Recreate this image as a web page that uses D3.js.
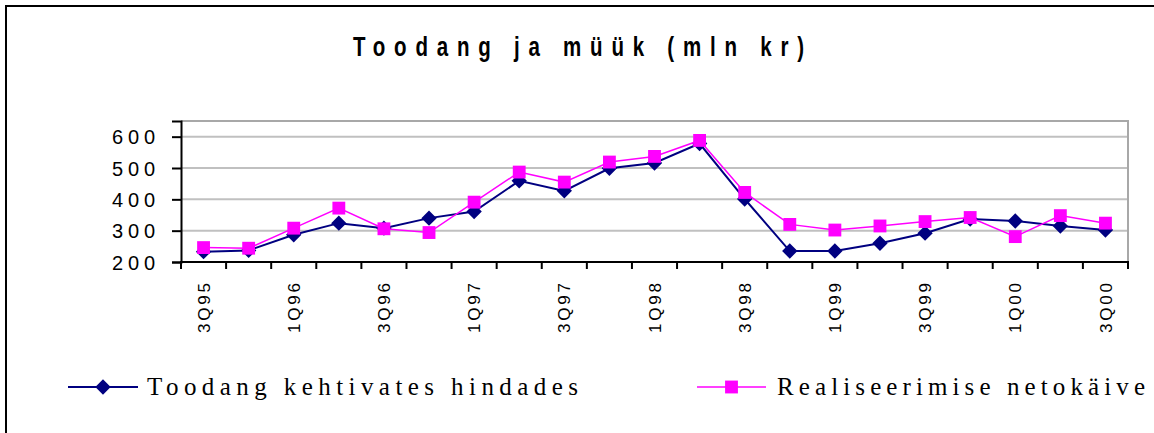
<!DOCTYPE html>
<html>
<head>
<meta charset="utf-8">
<script src="https://cdn.jsdelivr.net/npm/d3@7"></script>
<style>
  html, body { margin: 0; padding: 0; background: #fff; }
  svg { display: block; }
</style>
</head>
<body>
<svg id="chart" width="1154" height="433"></svg>
<script>
// Quarterly categories, 3Q95 .. 3Q00
const quarters = ["3Q95","4Q95","1Q96","2Q96","3Q96","4Q96","1Q97","2Q97","3Q97","4Q97",
                  "1Q98","2Q98","3Q98","4Q98","1Q99","2Q99","3Q99","4Q99","1Q00","2Q00","3Q00"];
// Output at current prices (mln kr)
const toodang = [233, 237, 287, 324, 308, 340, 361, 459, 427, 499, 516, 578, 401, 235, 235, 260, 292, 337, 331, 315, 302];
// Net sales (mln kr)
const realiseerimine = [246, 244, 308, 372, 306, 294, 391, 487, 455, 519, 537, 588, 422, 320, 302, 315, 329, 342, 281, 348, 324];
const yTicks = [200, 300, 400, 500, 600];
const titleText = "Toodang ja müük (mln kr)";
const seriesNames = ["Toodang kehtivates hindades", "Realiseerimise netokäive"];

const svg = d3.select("#chart");
const plot = { left: 181, right: 1128, top: 121, bottom: 262 };

// outer chart frame
svg.append("rect")
  .attr("x", 6).attr("y", 6)
  .attr("width", 1160).attr("height", 440)
  .attr("fill", "none").attr("stroke", "#000").attr("stroke-width", 2);

// title, set in a condensed bold face
const titleScale = 0.76;
svg.append("g")
  .attr("transform", `translate(353,56) scale(${titleScale},1)`)
  .append("text")
  .attr("x", 0).attr("y", 0)
  .attr("textLength", 451 / titleScale).attr("lengthAdjust", "spacing")
  .attr("font-family", "Liberation Sans, Arial, sans-serif")
  .attr("font-weight", "bold").attr("font-size", 27)
  .attr("fill", "#000")
  .text(titleText);

const x = d3.scaleBand().domain(quarters).range([plot.left, plot.right]).paddingInner(0).paddingOuter(0);
const y = d3.scaleLinear().domain([200, 650]).range([plot.bottom, plot.top]);
const cx = d => x(d) + x.bandwidth() / 2;

// horizontal gridlines
svg.append("g").selectAll("line").data(yTicks.slice(1)).join("line")
  .attr("x1", plot.left).attr("x2", plot.right)
  .attr("y1", d => y(d)).attr("y2", d => y(d))
  .attr("stroke", "#c0c0c0").attr("stroke-width", 2);

// plot area frame (top and right)
svg.append("path")
  .attr("d", `M${plot.left},${plot.top}H${plot.right}V${plot.bottom}`)
  .attr("fill", "none").attr("stroke", "#a8a8a8").attr("stroke-width", 2);

// y axis
const yAxis = svg.append("g")
  .attr("transform", `translate(${plot.left},0)`)
  .call(d3.axisLeft(y).tickValues(yTicks).tickSize(9).tickPadding(0).tickFormat(d3.format("d")));
yAxis.select(".domain").attr("stroke", "#000").attr("stroke-width", 2);
yAxis.selectAll(".tick line").attr("stroke", "#000").attr("stroke-width", 2);
yAxis.selectAll(".tick text")
  .attr("x", -26).attr("dy", "0.36em")
  .attr("font-family", "Liberation Sans, Arial, sans-serif")
  .attr("font-size", 20).attr("fill", "#000")
  .attr("textLength", 43).attr("lengthAdjust", "spacing");

// x axis: labels on every second quarter, ticks at category boundaries
const xAxis = svg.append("g")
  .attr("transform", `translate(0,${plot.bottom})`)
  .call(d3.axisBottom(x).tickValues(quarters.filter((d, i) => i % 2 === 0)).tickSize(0).tickPadding(0));
xAxis.select(".domain").remove();
xAxis.selectAll(".tick text")
  .attr("transform", "rotate(-90)")
  .attr("x", -46).attr("y", 0).attr("dy", "0.36em")
  .attr("text-anchor", "middle")
  .attr("font-family", "Liberation Sans, Arial, sans-serif")
  .attr("font-size", 17).attr("fill", "#000")
  .attr("textLength", 50).attr("lengthAdjust", "spacing");

const boundaries = quarters.map(d => x(d)).concat([x.range()[1]]);
svg.append("g").selectAll("line").data(boundaries).join("line")
  .attr("x1", d => d).attr("x2", d => d)
  .attr("y1", plot.bottom).attr("y2", plot.bottom + 7)
  .attr("stroke", "#000").attr("stroke-width", 2);
svg.append("line")
  .attr("x1", plot.left - 1).attr("x2", plot.right + 1)
  .attr("y1", plot.bottom).attr("y2", plot.bottom)
  .attr("stroke", "#000").attr("stroke-width", 2);

// series
const line = d3.line().x((d, i) => cx(quarters[i])).y(d => y(d));
const diamond = d3.symbol().type(d3.symbolDiamond2).size(100);
const square = d3.symbol().type(d3.symbolSquare2).size(210);

svg.append("path").datum(toodang)
  .attr("d", line).attr("fill", "none").attr("stroke", "#000080").attr("stroke-width", 2);
svg.append("g").selectAll("path").data(toodang).join("path")
  .attr("transform", (d, i) => `translate(${cx(quarters[i])},${y(d)})`)
  .attr("d", diamond).attr("fill", "#000080").attr("stroke", "#000080").attr("stroke-width", 2);

svg.append("path").datum(realiseerimine)
  .attr("d", line).attr("fill", "none").attr("stroke", "#ff00ff").attr("stroke-width", 1.5);
svg.append("g").selectAll("path").data(realiseerimine).join("path")
  .attr("transform", (d, i) => `translate(${cx(quarters[i])},${y(d)})`)
  .attr("d", square).attr("fill", "#ff00ff").attr("stroke", "none");

// legend
const legend = [
  { name: seriesNames[0], color: "#000080", sym: diamond, x0: 68, x1: 138, tx: 147, tw: 431, sw: 2, stroke: true },
  { name: seriesNames[1], color: "#ff00ff", sym: square, x0: 697, x1: 766, tx: 777, tw: 368, sw: 1.5, stroke: false }
];
const lg = svg.append("g").selectAll("g").data(legend).join("g");
lg.append("line")
  .attr("x1", d => d.x0).attr("x2", d => d.x1).attr("y1", 387).attr("y2", 387)
  .attr("stroke", d => d.color).attr("stroke-width", d => d.sw);
lg.append("path")
  .attr("transform", d => `translate(${(d.x0 + d.x1) / 2},387)`)
  .attr("d", d => d.sym())
  .attr("fill", d => d.color)
  .attr("stroke", d => d.stroke ? d.color : "none").attr("stroke-width", 2);
lg.append("text")
  .attr("x", d => d.tx).attr("y", 395)
  .attr("font-family", "Liberation Serif, Times New Roman, serif")
  .attr("font-size", 25).attr("fill", "#000")
  .attr("textLength", d => d.tw).attr("lengthAdjust", "spacing")
  .text(d => d.name);
</script>
</body>
</html>
